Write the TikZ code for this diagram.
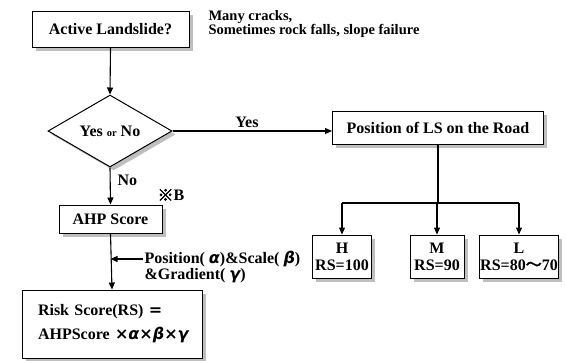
\documentclass[tikz,border=0pt]{standalone}
\usepackage{fontspec}
\setmainfont{Liberation Serif}
\newfontfamily\gk{DejaVu Sans}
\newfontfamily\cjk[AutoFakeBold=2.5]{Noto Sans CJK JP}
\usetikzlibrary{arrows.meta,shapes.geometric,shadows}
\hfuzz=100pt
\begin{document}
\begin{tikzpicture}[x=1pt,y=-1pt,
  line width=1.1pt,
  box/.style={draw, fill=white, line width=1pt, inner sep=0pt,
    drop shadow={shadow xshift=3.5pt, shadow yshift=-3.5pt, fill=black!25, opacity=1},
    font=\fontsize{16}{18}\selectfont\bfseries},
  arr/.style={-{Triangle[length=7pt,width=6pt]}},
  lbl/.style={inner sep=0pt, font=\fontsize{16}{18}\selectfont\bfseries},
  note/.style={inner sep=0pt, align=left, font=\fontsize{14.5}{14}\selectfont\bfseries}]
\useasboundingbox (0,0) rectangle (566,360);
\node[box, minimum width=157pt, minimum height=36pt] (active) at (110.5,29.5) {Active Landslide?};
\node[note, anchor=north west] (cracks) at (208,10) {Many cracks,\\Sometimes rock falls, slope failure};
\node[box, shape=diamond, minimum width=124pt, minimum height=72pt] (dec) at (110,131)
  {Yes {\fontsize{10.5}{12}\selectfont or} No};
\node[box, minimum width=211pt, minimum height=33pt] (pos) at (438,127.5) {Position of LS on the Road};
\node[box, minimum width=59pt, minimum height=43pt, align=center] (H) at (342,256.5) {H\\[-1pt]RS=100};
\node[box, minimum width=54pt, minimum height=43pt, align=center] (M) at (437,256.5) {M\\[-1pt]RS=90};
\node[box, minimum width=79pt, minimum height=43pt, align=center] (L) at (519,256.5) {L\\[-1pt]RS=80{\cjk 〜}70};
\node[box, minimum width=180pt, minimum height=68pt, align=left, text width=148pt] (rs) at (112,324)
  {\mbox{Risk Score(RS) {\gk =}}\\[6pt]\mbox{AHPScore {\gk ×\itshape α\upshape×\itshape β\upshape×\itshape γ}}};
\node[box, minimum width=103pt, minimum height=28pt] (ahp) at (110.5,219) {AHP Score};
\node[lbl, anchor=south] (yes) at (247,128) {Yes};
\node[lbl, anchor=west] (no) at (117,180) {No};
\node[lbl, anchor=west] (refb) at (157,195) {{\cjk ※}B};
\node[lbl, anchor=west, inner sep=1pt] (fac1) at (143,259) {Position( {\gk\itshape α})\&Scale( {\gk\itshape β})};
\node[lbl, anchor=west, inner sep=1pt] (fac2) at (143,276) {\&Gradient( {\gk\itshape γ})};
\coordinate (split) at (438,203);
\draw[arr] (active.south) -- (dec.north);
\draw[arr] (dec.east) -- (dec.east -| pos.west);
\draw[arr] (dec.south) -- (ahp.north);
\draw[arr] (ahp.south) -- (rs.north);
\draw[arr] (fac1.west) -- (fac1.west -| ahp.south);
\draw (pos.south) -- (split);
\draw (H.north |- split) -- (L.north |- split);
\draw[arr] (H.north |- split) -- (H.north);
\draw[arr] (M.north |- split) -- (M.north);
\draw[arr] (L.north |- split) -- (L.north);
\end{tikzpicture}
\end{document}
